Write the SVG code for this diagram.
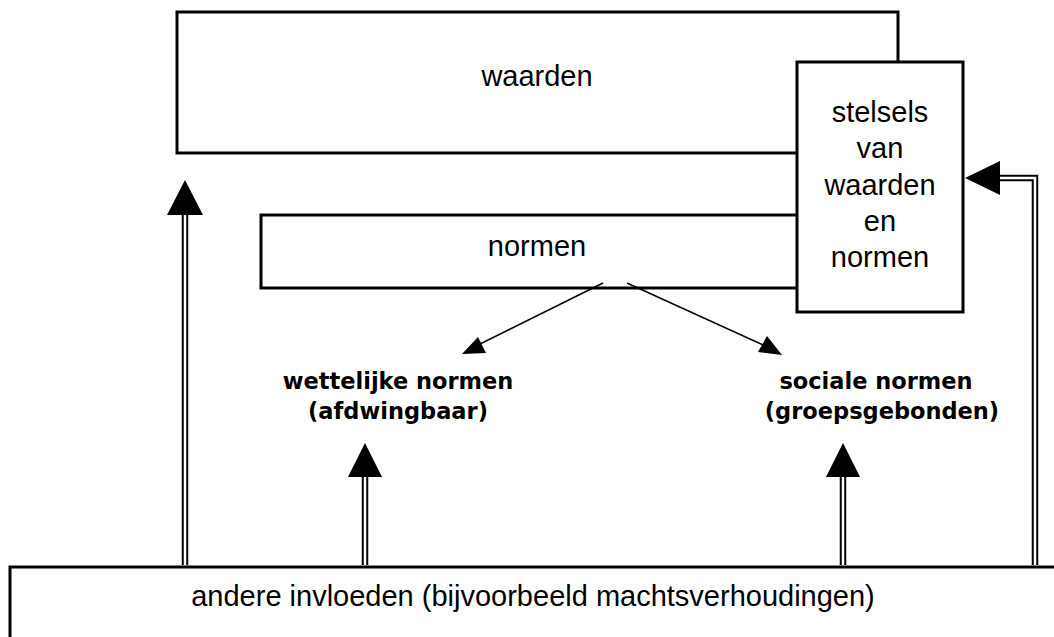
<svg xmlns="http://www.w3.org/2000/svg" width="1054" height="637" viewBox="0 0 1054 637">
<defs>
<style>
.box{fill:#fff;stroke:#000;stroke-width:3}
.t{font-family:"Liberation Sans",Arial,sans-serif;font-size:29px;fill:#000;text-anchor:middle}
.b{font-family:"DejaVu Sans",Verdana,sans-serif;font-weight:bold;font-size:22.5px;fill:#000;text-anchor:middle}
.dbl{fill:none;stroke:#000;stroke-width:6.5}
.dblin{fill:none;stroke:#fff;stroke-width:2.5}
.thin{fill:none;stroke:#000;stroke-width:1.5}
</style>
</defs>
<g id="waarden"><rect class="box" x="177" y="12" width="721" height="141"/><text class="t" x="537" y="86">waarden</text></g>
<g id="normen"><rect class="box" x="261" y="215" width="560" height="73"/><text class="t" x="537" y="256">normen</text></g>
<g id="stelsels"><rect class="box" x="797" y="62" width="166" height="250"/>
<text class="t" x="880" y="122">stelsels</text>
<text class="t" x="880" y="158">van</text>
<text class="t" x="880" y="195">waarden</text>
<text class="t" x="880" y="231">en</text>
<text class="t" x="880" y="267">normen</text></g>
<g id="wettelijk"><text class="b" x="398" y="389">wettelijke normen</text><text class="b" x="398" y="419">(afdwingbaar)</text></g>
<g id="sociaal"><text class="b" x="876" y="389">sociale normen</text><text class="b" x="882" y="419">(groepsgebonden)</text></g>
<g id="andere"><rect class="box" x="10" y="567" width="1060" height="90"/><text class="t" x="533" y="606">andere invloeden (bijvoorbeeld machtsverhoudingen)</text></g>
<g id="connectors">
<line class="thin" x1="603" y1="283" x2="470" y2="349"/>
<polygon points="462,354 478,337 486,353" fill="#000"/>
<line class="thin" x1="627" y1="283" x2="772" y2="349"/>
<polygon points="782,355 758,352 767,336" fill="#000"/>
<path class="dbl" d="M185,565 V205"/><path class="dblin" d="M185,565 V205"/>
<polygon points="185,180 167,215 203,215" fill="#000"/>
<path class="dbl" d="M365,565 V470"/><path class="dblin" d="M365,565 V470"/>
<polygon points="365,443 348,477 382,477" fill="#000"/>
<path class="dbl" d="M843,565 V470"/><path class="dblin" d="M843,565 V470"/>
<polygon points="843,443 826,477 860,477" fill="#000"/>
<path class="dbl" d="M1035,565 V178 H992"/><path class="dblin" d="M1035,565 V178 H992"/>
<polygon points="965,178 1000,161 1000,195" fill="#000"/>
</g>
</svg>
